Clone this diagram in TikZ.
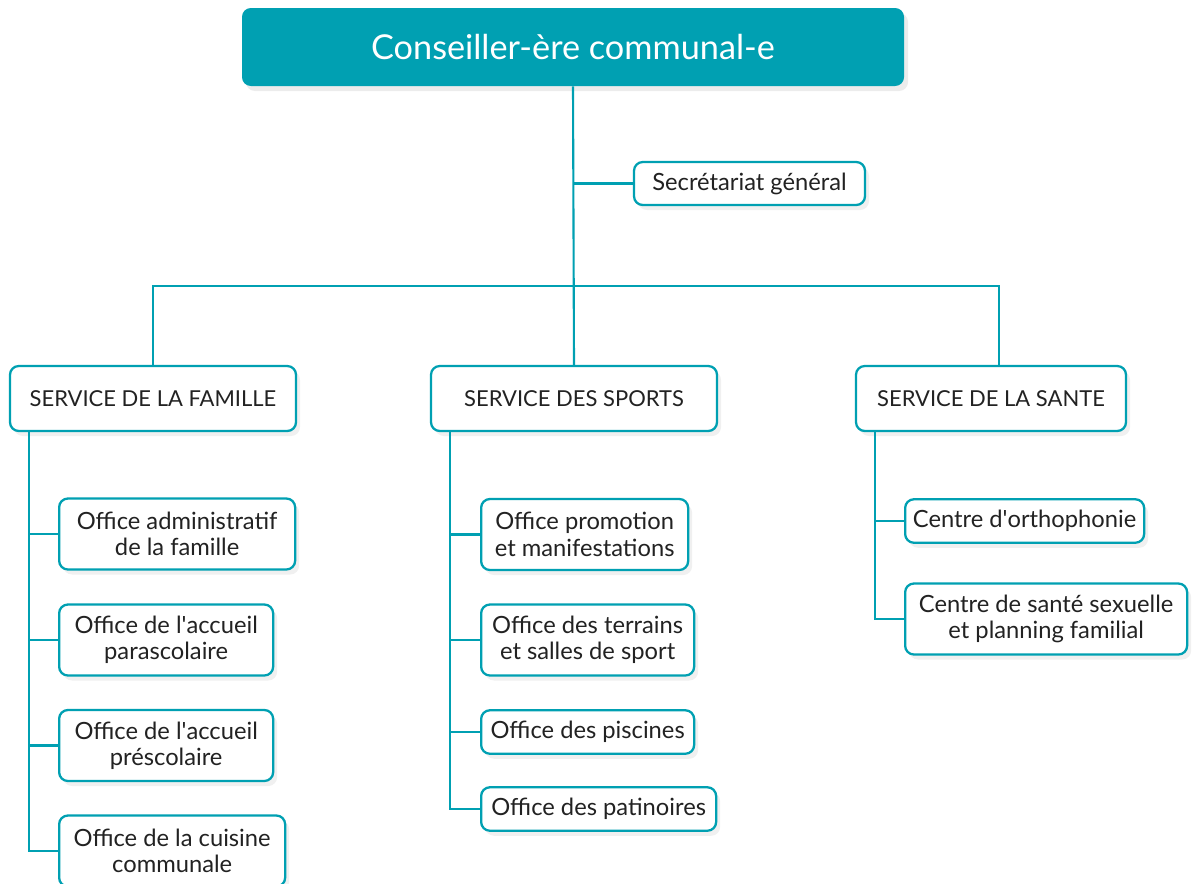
\documentclass[tikz,border=0pt]{standalone}
\usepackage{fontspec}
\setmainfont{Lato}
\usetikzlibrary{positioning,shadows}
\definecolor{teal1}{HTML}{00A0B2}
\definecolor{ink}{HTML}{222222}

\begin{document}
\begin{tikzpicture}[
  font=\fontsize{13.5}{15}\selectfont,
  box/.style={draw=teal1, line width=1.3pt, rounded corners=5pt, fill=white, text=ink, align=center,
    drop shadow={opacity=0.12, shadow xshift=0.08cm, shadow yshift=-0.1cm}},
  head/.style={fill=teal1, rounded corners=5pt, text=white, font=\fontsize{19.5}{22}\selectfont,
    minimum width=13.24cm, minimum height=1.56cm,
    drop shadow={opacity=0.15, shadow xshift=0.08cm, shadow yshift=-0.1cm}},
  service/.style={box, minimum height=1.3cm, font=\fontsize{12.5}{15}\selectfont},
  office/.style={box, anchor=west, minimum height=1.42cm},
  small/.style={box, anchor=west, minimum height=0.87cm},
  link/.style={draw=teal1, line width=1.2pt}
]
\useasboundingbox (0,0) rectangle (23.84,-17.66);

\node[head] (top) at (11.46,-0.94) {Conseiller-ère communal-e};
\node[box, minimum width=4.62cm, minimum height=0.86cm] (secr) at (14.99,-3.67) {Secrétariat général};

\node[service, minimum width=5.72cm] (famille) at (3.06,-7.97) {SERVICE DE LA FAMILLE};
\node[service, minimum width=5.72cm] (sports) at (11.48,-7.97) {SERVICE DES SPORTS};
\node[service, minimum width=5.40cm] (sante) at (19.82,-7.97) {SERVICE DE LA SANTE};

% famille
\node[office, minimum width=4.72cm] (adm) at (1.16,-10.68) {Office administratif\\de la famille};
\node[office, minimum width=4.28cm] (para) at (1.16,-12.8) {Office de l\textquotesingle accueil\\parascolaire};
\node[office, minimum width=4.28cm] (pres) at (1.16,-14.91) {Office de l\textquotesingle accueil\\préscolaire};
\node[office, minimum width=4.52cm] (cuis) at (1.16,-17.02) {Office de la cuisine\\communale};

% sports
\node[office, minimum width=4.14cm] (promo) at (9.6,-10.69) {Office promotion\\et manifestations};
\node[office, minimum width=4.26cm] (terr) at (9.6,-12.8) {Office des terrains\\et salles de sport};
\node[small, minimum width=4.26cm] (pisc) at (9.6,-14.64) {Office des piscines};
\node[small, minimum width=4.70cm] (pati) at (9.6,-16.18) {Office des patinoires};

% sante
\node[small, minimum width=4.78cm] (ortho) at (18.08,-10.42) {Centre d\textquotesingle orthophonie};
\node[office, minimum width=5.64cm] (sexu) at (18.08,-12.38) {Centre de santé sexuelle\\et planning familial};

\coordinate (bar) at (0,-5.72);
\coordinate (santetop) at ([xshift=0.16cm]sante.north);
\draw[link] (top.south) -- (sports.north);
\draw[link] (secr.west) -- (secr.west -| top.south);
\draw[link] (famille.north) -- (famille.north |- bar) -- (santetop |- bar) -- (santetop);

\coordinate (famtrunk) at ([xshift=0.4cm]famille.south west);
\coordinate (sptrunk) at ([xshift=0.4cm]sports.south west);
\coordinate (satrunk) at ([xshift=0.4cm]sante.south west);

\draw[link] (famtrunk) |- (cuis.west);
\foreach \n in {adm,para,pres}
  \draw[link] (\n.west) -- (\n.west -| famtrunk);
\draw[link] (sptrunk) |- (pati.west);
\foreach \n in {promo,terr,pisc}
  \draw[link] (\n.west) -- (\n.west -| sptrunk);
\draw[link] (satrunk) |- (sexu.west);
\draw[link] (ortho.west) -- (ortho.west -| satrunk);

\end{tikzpicture}
\end{document}
